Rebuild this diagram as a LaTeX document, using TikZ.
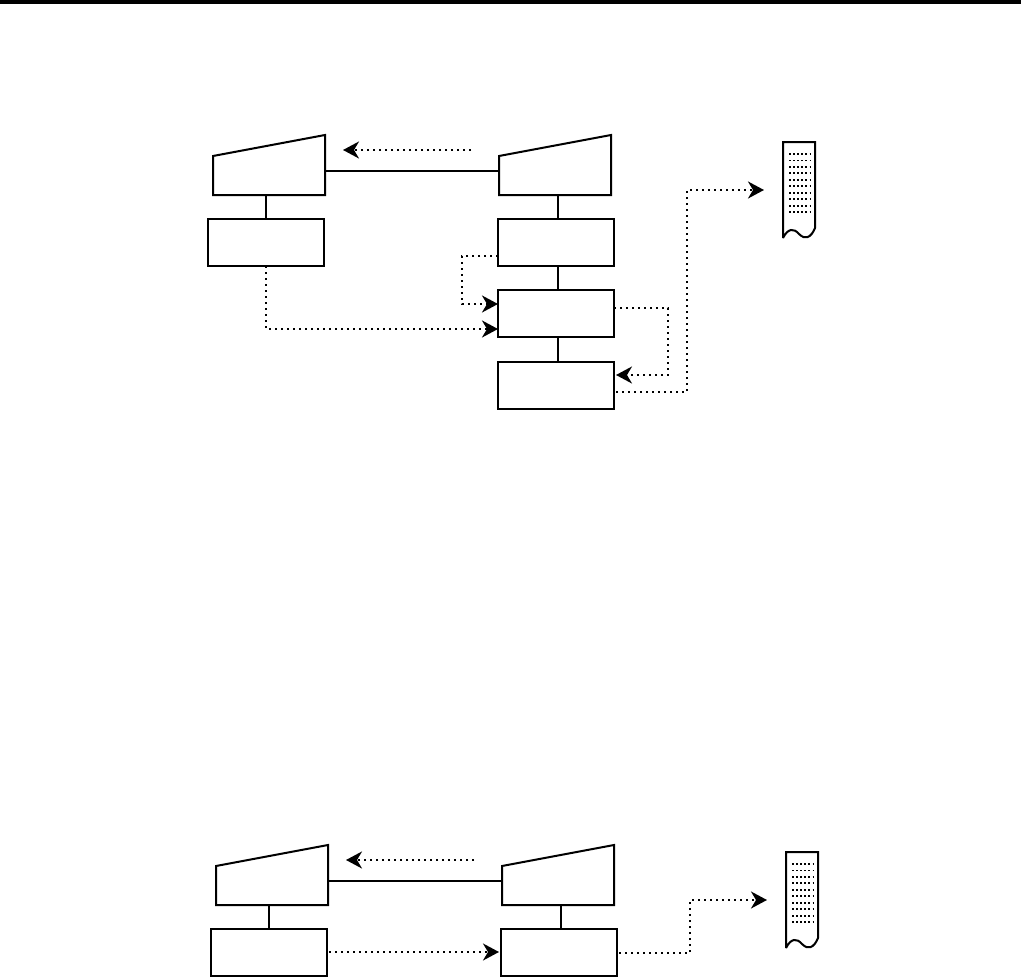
\documentclass[tikz,border=0pt]{standalone}
\usetikzlibrary{arrows.meta}
\tikzset{
  x=1pt,y=-1pt,
  solidline/.style={line width=2pt,draw=black},
  boxnode/.style={draw=black,line width=2pt,fill=white,minimum width=116pt,minimum height=47pt,inner sep=0pt,outer sep=0pt,anchor=north west},
  dotline/.style={line width=2pt,draw=black,dash pattern=on 2pt off 4pt},
  dotarrow/.style={dotline,-{Stealth[length=16pt,width=17pt,inset=5pt]}},
  dotrow/.style={line width=1.8pt,draw=black,dash pattern=on 2pt off 2.1pt},
  trapez/.style={solidline,fill=white,line join=miter},
}
\newcommand{\paperdoc}[2]{%
  \begin{scope}[shift={(#1,#2)}]
    \draw[solidline] (0,96) -- (0,0) -- (32,0) -- (32,86)
      .. controls (28,96) and (22,98) .. (16,92) .. controls (11,86) and (5,86) .. (0,96);
    \foreach \r in {0,...,9}
      \draw[dotrow] (6,12+6.45*\r) -- (28,12+6.45*\r);
  \end{scope}}
\begin{document}
\begin{tikzpicture}
\useasboundingbox (0,0) rectangle (1021,977);
\fill[white] (0,0) rectangle (1021,977);
\fill[black] (0,0) rectangle (1021,3.5);

% upper diagram
\draw[trapez] (213,156) -- (325,135) -- (325,195) -- (213,195) -- cycle;
\draw[trapez] (499,156) -- (611,135) -- (611,195) -- (499,195) -- cycle;
\coordinate (tlr) at (325,171);
\coordinate (trl) at (499,171);
\coordinate (tlb) at (266,195);
\coordinate (trb) at (558,195);
\node[boxnode] (a1) at (208,219) {};
\node[boxnode] (b1) at (498,219) {};
\node[boxnode] (b2) at (498,290) {};
\node[boxnode] (b3) at (498,362) {};
\draw[solidline] (tlr) -- (trl);
\draw[solidline] (tlb) -- (tlb |- a1.north);
\draw[solidline] (trb) -- (trb |- b1.north);
\draw[solidline] (558,266) -- (558,290);
\draw[solidline] (558,337) -- (558,362);
\coordinate (u1s) at (471,150);
\coordinate (u1e) at (343,150);
\draw[dotarrow] (u1s) -- (u1e);
\draw[dotarrow] (b1.west |- 0,256) -- (462,256) -- (462,304) -- (b2.west |- 0,304);
\draw[dotarrow] (a1.south -| 266,0) -- (266,329) -- (b2.west |- 0,329);
\draw[dotarrow] (b2.east |- 0,308) -- (668,308) -- (668,375) -- (616,375);
\coordinate (u5e) at (764,190);
\draw[dotarrow] (616,392) -- (687,392) -- (687,190) -- (u5e);
\paperdoc{783}{142}

% lower diagram
\draw[trapez] (216,866) -- (328,845) -- (328,905) -- (216,905) -- cycle;
\draw[trapez] (502,866) -- (614,845) -- (614,905) -- (502,905) -- cycle;
\coordinate (blr) at (328,881);
\coordinate (brl) at (502,881);
\coordinate (blb) at (269,905);
\coordinate (brb) at (561,905);
\node[boxnode] (c1) at (211,929) {};
\node[boxnode] (c2) at (501,929) {};
\draw[solidline] (blr) -- (brl);
\draw[solidline] (blb) -- (blb |- c1.north);
\draw[solidline] (brb) -- (brb |- c2.north);
\coordinate (l1s) at (474,860);
\coordinate (l1e) at (346,860);
\draw[dotarrow] (l1s) -- (l1e);
\coordinate (l2s) at (329,952);
\coordinate (l2e) at (499,952);
\draw[dotarrow] (l2s) -- (l2e);
\coordinate (l3s) at (619,953);
\coordinate (l3e) at (767,900);
\draw[dotarrow] (l3s) -- (690,953) -- (690,900) -- (l3e);
\paperdoc{786}{852}
\end{tikzpicture}
\end{document}
